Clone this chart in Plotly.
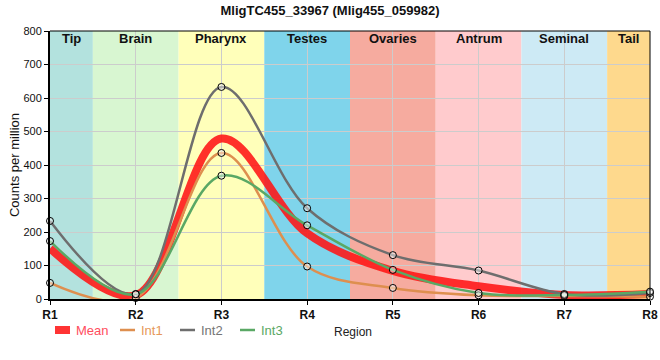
import plotly.graph_objects as go

regions = ["R1", "R2", "R3", "R4", "R5", "R6", "R7", "R8"]
x_pos = [1, 2, 3, 4, 5, 6, 7, 8]
mean_vals = [151, 11, 479, 196, 84, 38, 12, 15]
int1_vals = [48, 3, 436, 97, 33, 11, 9, 7]
int2_vals = [233, 15, 633, 271, 131, 85, 15, 18]
int3_vals = [173, 14, 368, 220, 87, 18, 12, 22]

band_names = ["Tip", "Brain", "Pharynx", "Testes", "Ovaries", "Antrum", "Seminal", "Tail"]
band_colors = ["#b3e2de", "#d8f6d1", "#ffffba", "#7fd4eb", "#f6ab9f", "#ffcbcd", "#cdeaf5", "#fed98d"]

FONT = "Liberation Sans, Arial, sans-serif"
SM = 1.0
L, R, T, B, W, H = 50, 10, 31, 61, 660, 360
PW, PH = W - L - R, H - T - B


def px(x):
    return (x - L) / PW


def py(y):
    return (H - B - y) / PH


fig = go.Figure()

marker_style = dict(size=7, color="rgba(255,255,255,0.45)", line=dict(color="black", width=1))

series = [
    ("Mean", mean_vals, "rgba(255,20,20,0.88)", 8, "#ff4d5e", False),
    ("Int1", int1_vals, "#de8f4f", 2.5, "#e6985a", True),
    ("Int2", int2_vals, "#6e6e6e", 2.5, "#757575", True),
    ("Int3", int3_vals, "#5aa865", 2.5, "#5aa864", True),
]
for nm, vals, col, w, tcol, mk in series:
    fig.add_trace(go.Scatter(x=x_pos, y=vals, mode="lines", name=nm, showlegend=False,
                             line=dict(color=col, width=w, shape="spline", smoothing=SM)))
for nm, vals, col, w, tcol, mk in series:
    if mk:
        fig.add_trace(go.Scatter(x=x_pos, y=vals, mode="markers", showlegend=False,
                                 marker=marker_style, cliponaxis=False))

shapes = []
annotations = []
for i, (nm, col) in enumerate(zip(band_names, band_colors)):
    x0 = max(1, i + 0.5)
    x1 = min(8, i + 1.5)
    shapes.append(dict(type="rect", xref="x", yref="paper", x0=x0, x1=x1, y0=0, y1=1,
                       fillcolor=col, line=dict(width=0), layer="below"))
    annotations.append(dict(x=(x0 + x1) / 2, y=1, xref="x", yref="paper", yanchor="top", yshift=2,
                            text="<b>%s</b>" % nm, showarrow=False,
                            font=dict(size=13, color="#111111", family=FONT)))

# manual legend
leg_y = 330
legend_items = [
    (55, 70, 8, "rgba(255,30,30,0.9)", 74),
    (120, 135, 2.5, "#de8f4f", 139),
    (180, 195, 2.5, "#6e6e6e", 199),
    (240, 255, 2.5, "#5aa865", 259),
]
for (s0, s1, lw, col, tx), (nm, vals, c2, w, tcol, mk) in zip(legend_items, series):
    shapes.append(dict(type="line", xref="paper", yref="paper", x0=px(s0), x1=px(s1),
                       y0=py(leg_y), y1=py(leg_y), line=dict(color=col, width=lw)))
    annotations.append(dict(x=px(tx), y=py(leg_y), xref="paper", yref="paper", xanchor="left",
                            yanchor="middle", text=nm, showarrow=False,
                            font=dict(size=13, color=tcol, family=FONT)))

annotations.append(dict(x=px(332), y=py(332), xref="paper", yref="paper", xanchor="left", yanchor="middle",
                        text="Region", showarrow=False,
                        font=dict(size=12, color="#222222", family=FONT)))

shapes.append(dict(type="line", xref="paper", yref="paper", x0=1, x1=1, y0=0, y1=1,
                   line=dict(color="black", width=1)))
shapes.append(dict(type="line", xref="paper", yref="paper", x0=0, x1=1, y0=1, y1=1,
                   line=dict(color="black", width=1)))

fig.update_layout(
    width=W, height=H,
    margin=dict(l=L, r=R, t=T, b=B, autoexpand=False),
    paper_bgcolor="white", plot_bgcolor="white",
    font=dict(family=FONT, size=12, color="#111111"),
    title=dict(text="<b>MligTC455_33967 (Mlig455_059982)</b>", x=0.5, xanchor="center",
               y=1 - 10 / H, yanchor="middle", font=dict(size=13, color="#111111")),
    shapes=shapes,
    annotations=annotations,
    showlegend=False,
    xaxis=dict(range=[1, 8], tickvals=x_pos, ticktext=["<b>%s</b>" % r for r in regions],
               showgrid=True, gridcolor="#cccccc", gridwidth=1, automargin=False,
               showline=True, linecolor="black", linewidth=2,
               ticks="outside", ticklen=4, tickcolor="black", tickfont=dict(size=12), zeroline=False),
    yaxis=dict(range=[0, 800], dtick=100, showgrid=True, gridcolor="#cccccc", gridwidth=1,
               showline=True, linecolor="black", linewidth=2, ticks="outside", ticklen=4,
               tickcolor="black", tickfont=dict(size=11), zeroline=False, automargin=False,
               title=dict(text="Counts per million", font=dict(size=13), standoff=1)),
)

fig.write_html("out.html", config={"displayModeBar": False},
               post_script="document.body.style.margin='0px';document.body.style.padding='0px';")
